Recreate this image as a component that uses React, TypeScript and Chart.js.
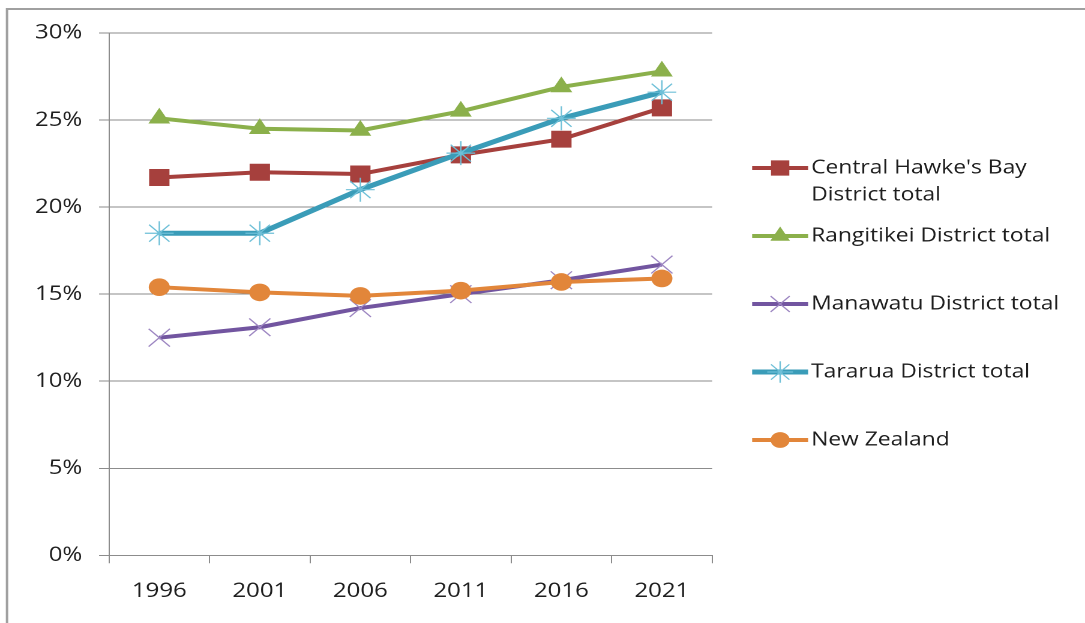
import React, { useEffect, useRef } from 'react';
import { Chart, registerables } from 'chart.js';
import { drawPoint } from 'chart.js/helpers';

Chart.register(...registerables);

// ---- Data ----
const years = ['1996', '2001', '2006', '2011', '2016', '2021'];
const centralHawkesBay = [21.7, 22.0, 21.9, 23.0, 23.9, 25.7];
const rangitikei = [25.1, 24.5, 24.4, 25.5, 26.9, 27.8];
const manawatu = [12.5, 13.1, 14.2, 15.0, 15.8, 16.7];
const tararua = [18.5, 18.5, 21.0, 23.1, 25.1, 26.6];
const newZealand = [15.4, 15.1, 14.9, 15.2, 15.7, 15.9];
const seriesNames = [
  "Central Hawke's Bay District total",
  'Rangitikei District total',
  'Manawatu District total',
  'Tararua District total',
  'New Zealand',
];
const yTicks = [0, 5, 10, 15, 20, 25, 30];

// internal canvas is narrower and stretched horizontally by CSS
const CSS_W = 1085;
const CSS_H = 623;
const SX = 1.2;
const W = Math.round(CSS_W / SX);
const FONT = '"Open Sans", "Noto Sans", sans-serif';

const frameColor = '#a0a0a0';
const gridColor = '#8c8c8c';
const textColor = '#1e1e1e';

const framePlugin = {
  id: 'frame',
  beforeDraw(chart: any) {
    const ctx = chart.ctx;
    ctx.save();
    ctx.fillStyle = '#ffffff';
    ctx.fillRect(0, 0, chart.width, chart.height);
    ctx.strokeStyle = frameColor;
    ctx.lineWidth = 2;
    ctx.beginPath();
    ctx.moveTo(7 / SX, chart.height);
    ctx.lineTo(7 / SX, 9);
    ctx.lineTo(chart.width, 9);
    ctx.stroke();
    ctx.restore();
  },
};

const legendPlugin = {
  id: 'sideLegend',
  afterDraw(chart: any) {
    const ctx = chart.ctx;
    const x0 = 752 / SX;
    const x1 = 808 / SX;
    const xm = (x0 + x1) / 2;
    const tx = 811 / SX;
    const maxW = 235;
    chart.data.datasets.forEach((ds: any, i: number) => {
      const y = 168 + i * 68;
      ctx.save();
      ctx.strokeStyle = ds.borderColor;
      ctx.lineWidth = ds.borderWidth;
      ctx.beginPath();
      ctx.moveTo(x0, y);
      ctx.lineTo(x1, y);
      ctx.stroke();
      ctx.fillStyle = ds.pointBackgroundColor;
      ctx.strokeStyle = ds.pointBorderColor;
      ctx.lineWidth = ds.pointBorderWidth;
      drawPoint(ctx, { pointStyle: ds.pointStyle, radius: ds.pointRadius * 0.9, borderWidth: ds.pointBorderWidth, rotation: 0 } as any, xm, y);
      ctx.font = `19px ${FONT}`;
      ctx.fillStyle = textColor;
      ctx.textBaseline = 'middle';
      ctx.textAlign = 'left';
      const words = String(ds.label).split(' ');
      const lines: string[] = [];
      let cur = '';
      words.forEach((w) => {
        const test = cur ? cur + ' ' + w : w;
        if (cur && ctx.measureText(test).width > maxW) {
          lines.push(cur);
          cur = w;
        } else {
          cur = test;
        }
      });
      if (cur) lines.push(cur);
      lines.forEach((ln, k) => ctx.fillText(ln, tx, y + k * 27));
      ctx.restore();
    });
  },
};

export default function App() {
  const ref = useRef<HTMLCanvasElement | null>(null);

  useEffect(() => {
    if (!ref.current) return;
    const mk = (
      label: string,
      data: number[],
      color: string,
      style: string,
      radius: number,
      fill: string,
      border: string,
      bw: number,
      lw: number,
      order: number
    ) => ({
      label,
      data,
      borderColor: color,
      backgroundColor: color,
      borderWidth: lw,
      pointStyle: style,
      pointRadius: radius,
      pointHoverRadius: radius,
      pointBackgroundColor: fill,
      pointBorderColor: border,
      pointBorderWidth: bw,
      tension: 0,
      order,
    });
    const datasets = [
      mk(seriesNames[0], centralHawkesBay, '#a6403d', 'rect', 12, '#a6403d', '#a6403d', 0, 4, 4),
      mk(seriesNames[1], rangitikei, '#8bb04b', 'triangle', 10.5, '#8bb04b', '#8bb04b', 0, 4, 3),
      mk(seriesNames[2], manawatu, '#7255a0', 'crossRot', 12.5, '#7255a0', '#9d86c2', 1.2, 4, 2),
      mk(seriesNames[3], tararua, '#3a9cb8', 'star', 12, '#3a9cb8', '#6ec0d8', 1.2, 5, 1),
      mk(seriesNames[4], newZealand, '#e2863a', 'circle', 8.8, '#e2863a', '#e2863a', 0, 4, 0),
    ];
    const chart = new Chart(ref.current, {
      type: 'line',
      data: { labels: years, datasets },
      plugins: [framePlugin, legendPlugin],
      options: {
        animation: false,
        responsive: false,
        devicePixelRatio: 2,
        events: [],
        layout: { padding: { left: 0, top: 33, right: W - 712 / SX, bottom: 0 } },
        plugins: {
          legend: { display: false },
          tooltip: { enabled: false },
          title: { display: false },
        },
        scales: {
          x: {
            type: 'category',
            offset: true,
            grid: {
              display: true,
              drawOnChartArea: false,
              drawTicks: true,
              tickLength: 8,
              color: gridColor,
              offset: true,
            },
            border: { display: true, color: gridColor, width: 1 },
            ticks: {
              color: textColor,
              font: { family: FONT, size: 20 },
              padding: 16,
              maxRotation: 0,
              autoSkip: false,
            },
            afterFit: (s: any) => {
              s.height = CSS_H - 555.3;
            },
          },
          y: {
            min: 0,
            max: 30,
            afterBuildTicks: (s: any) => {
              s.ticks = yTicks.map((v) => ({ value: v }));
            },
            grid: {
              color: gridColor,
              lineWidth: 1,
              drawTicks: true,
              tickLength: 8.3,
            },
            border: { display: true, color: gridColor, width: 1 },
            ticks: {
              color: textColor,
              font: { family: FONT, size: 20 },
              padding: 14,
              callback: (v: any) => `${v}%`,
            },
            afterFit: (s: any) => {
              s.width = 109 / SX;
            },
          },
        },
      } as any,
    });
    return () => chart.destroy();
  }, []);

  return (
    <div style={{ position: 'absolute', left: 0, top: 0, width: CSS_W, height: CSS_H, background: '#fff' }}>
      <canvas
        ref={ref}
        width={W}
        height={CSS_H}
        style={{ width: `${CSS_W}px`, height: `${CSS_H}px`, display: 'block' }}
      />
    </div>
  );
}
